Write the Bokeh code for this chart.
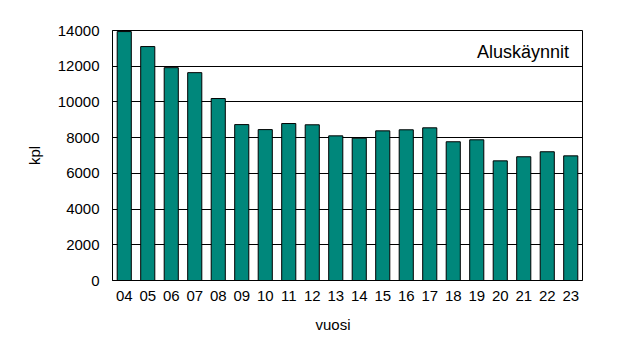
from bokeh.plotting import figure
from bokeh.models import ColumnDataSource, Range1d, FactorRange, Label, Title, FixedTicker, NumeralTickFormatter
from bokeh.embed import file_html
from bokeh.resources import INLINE

years = ["04", "05", "06", "07", "08", "09", "10", "11", "12", "13",
         "14", "15", "16", "17", "18", "19", "20", "21", "22", "23"]
visits = [13940, 13100, 11920, 11640, 10190, 8730, 8450, 8790, 8720, 8100,
          7970, 8380, 8440, 8550, 7770, 7880, 6700, 6930, 7210, 6980]
y_ticks = [0, 2000, 4000, 6000, 8000, 10000, 12000, 14000]

FONT = "Liberation Sans"

src = ColumnDataSource(dict(x=years, top=visits))

p = figure(x_range=FactorRange(*years, range_padding=0), y_range=Range1d(0, 14000),
           width=626, height=355, frame_width=470, frame_height=250,
           min_border_left=112, min_border_right=44, min_border_top=30, min_border_bottom=75,
           output_backend="svg", toolbar_location=None)

p.vbar(x="x", top="top", width=0.6, source=src, fill_color="#00877B",
       line_color="black", line_width=1)

p.outline_line_color = "black"
p.outline_line_width = 1
p.background_fill_color = "white"
p.border_fill_color = "white"

p.xgrid.grid_line_color = None
p.ygrid.grid_line_color = "black"
p.ygrid.grid_line_width = 1

p.yaxis.ticker = FixedTicker(ticks=y_ticks)
p.yaxis.formatter = NumeralTickFormatter(format="0")
p.yaxis.major_tick_out = 0
p.yaxis.major_tick_in = 0
p.yaxis.minor_tick_out = 0
p.yaxis.minor_tick_in = 0
p.yaxis.major_label_standoff = 13
p.yaxis.axis_label = "kpl"
p.yaxis.axis_label_standoff = 12

p.xaxis.major_tick_out = 0
p.xaxis.major_tick_in = 0
p.xaxis.major_label_standoff = 10

for ax in (p.xaxis[0], p.yaxis[0]):
    ax.axis_line_color = "black"
    ax.major_label_text_font = FONT
    ax.major_label_text_font_size = "15px"
    ax.major_label_text_color = "black"
    ax.axis_label_text_font = FONT
    ax.axis_label_text_font_size = "15px"
    ax.axis_label_text_font_style = "normal"
    ax.axis_label_text_color = "black"

# x-axis title (slightly left of frame centre, as in the original)
p.add_layout(Title(text="vuosi", align="left", offset=203, standoff=20,
                   text_font=FONT, text_font_size="15px", text_font_style="normal",
                   text_color="black"), "below")

p.add_layout(Label(x=19.43, y=12820, text="Aluskäynnit", text_align="right",
                   text_baseline="middle", text_font=FONT, text_font_size="18px",
                   text_color="black"))

open("out.html", "w").write(file_html(p, INLINE))
